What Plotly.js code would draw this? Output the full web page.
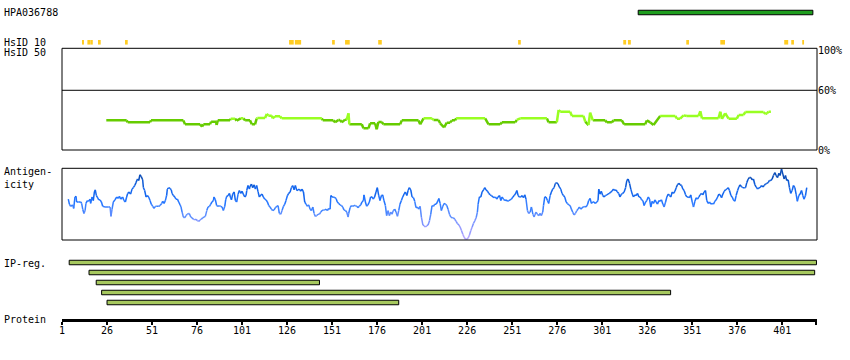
<!DOCTYPE html>
<html><head><meta charset="utf-8">
<script src="https://cdn.plot.ly/plotly-3.0.1.min.js"></script>
<style>html,body{margin:0;padding:0;background:#fff}#chart{width:850px;height:360px}</style>
</head><body><div id="chart"></div>
<script>
// ---- data ----
const antibodyName = 'HPA036788';
const antigenStart = 321;
const antigenEnd = 418;

const hsid10Start = [12.1,15.1,16.7,21.0,36.0,127.1,130.3,151.0,158.2,176.6,254.3,312.7,315.3,347.7,366.6,402.1,406.0,412.1];
const hsid10End   = [13.2,16.6,18.1,22.5,37.5,129.7,133.8,152.5,160.8,178.6,255.8,314.3,316.9,349.2,369.2,404.3,407.5,413.1];

const idRes = [25.6,36.9,37.5,49.9,50.4,68.4,69.3,77.7,78.8,79.5,83.2,83.8,86.6,86.9,87.5,94.3,94.7,97.1,98,100.3,101.7,102.7,105.4,106.4,108.2,109.1,109.5,113.8,114.7,115.6,117.5,118,119.3,122.1,123,145.3,145.8,151.7,152.7,154.5,155.4,156.4,158.2,159.1,160.1,160.6,167.5,168.4,171.2,172.1,174.9,175.8,176.7,178.6,179.5,188.8,189.7,199,199.9,201.8,206.4,207.3,210.1,211,213.2,214.7,216.6,217.5,219.3,219.9,236,237.9,244.3,245.3,252.7,253.6,255.5,270.3,271.2,275.8,276.8,277.7,283.2,284.2,290.6,291.6,293.4,294.3,295.8,302.7,303.6,306.4,307.3,311.9,313.2,324.9,325.8,327.7,329.5,333.2,341.6,342.5,344.3,346.2,348,354.5,355.5,356.4,365.6,366.6,367.5,369.3,371.2,375.8,376.8,379.5,380.5,390.6,391.6,392.5,393.4,394.7];
const idVal = [29.8,29.8,27.8,27.8,29.8,29.8,25.8,25.8,23.5,25.8,25.8,28.5,28.5,25.1,29.8,29.8,31.5,31.5,29.5,31.8,31.8,29.8,29.8,25.8,25.8,31.5,32.2,32.2,36.2,34.5,34.5,31.8,33.8,33.8,31.8,31.8,29.8,29.8,27.8,30.2,30.2,27.8,30.5,30.5,36.9,25.8,25.8,21.8,21.8,26.8,26.8,20.8,28.1,28.1,25.8,25.8,29.8,29.8,25.8,31.8,31.8,30.2,30.2,26.8,22.8,27.5,27.5,29.8,29.8,31.8,31.8,25.8,25.8,27.8,27.8,30.2,31.8,31.8,27.8,27.8,40.2,38.5,38.5,34.2,34.2,28.5,25.1,37.5,29.8,29.8,27.8,27.8,29.8,29.8,25.8,25.8,29.8,27.8,25.1,34.2,34.2,31.5,31.5,34.8,34.2,34.2,38.9,31.8,31.8,38.5,31.2,36.9,31.5,31.5,35.2,35.2,38.2,38.2,36.2,36.9,38.5,38.5];

const agRes = [4.5,5.1,5.8,6.9,7.5,8.2,8.8,9.1,10.1,11.4,11.9,12.5,13.2,13.8,14.3,15.1,15.8,16.6,16.9,17.7,18.4,19.0,19.5,20.1,20.6,21.4,22.1,22.9,23.6,24.9,26.7,27.7,28.2,28.8,29.5,30.4,31.4,32.3,32.9,33.6,34.7,35.4,36.2,36.9,37.5,38.2,39.1,39.9,40.6,41.4,42.1,42.9,43.6,44.3,45.1,45.8,46.2,46.9,47.7,48.4,49.1,49.9,50.6,51.4,52.1,52.9,53.6,54.7,55.4,56.4,56.9,57.7,58.4,59.1,59.5,60.3,61.0,61.7,62.1,62.9,63.6,64.3,65.1,65.8,66.6,67.1,67.7,68.4,69.1,69.9,70.6,71.4,71.7,72.5,73.2,74.0,74.7,75.4,76.2,76.9,77.7,78.4,79.1,79.9,80.6,81.4,82.1,82.9,83.6,84.3,85.1,85.4,86.2,86.9,87.7,88.4,89.1,89.9,90.6,91.4,91.9,92.5,93.2,94.0,94.5,95.1,95.8,96.6,97.3,98.0,98.8,99.5,100.3,101.0,101.7,102.5,103.2,103.6,104.3,105.1,
105.3,106.2,106.9,107.7,108.4,109.1,109.9,110.6,111.4,112.1,112.8,113.6,114.3,115.1,115.8,116.5,117.3,118.0,118.8,119.5,120.3,121.0,121.7,122.5,123.2,124.0,124.7,125.4,126.2,126.9,127.7,128.4,129.1,129.9,130.6,131.4,132.1,132.8,133.6,134.3,135.1,135.8,136.5,137.3,138.0,138.8,139.5,140.3,141.0,141.7,142.5,143.2,144.0,144.7,145.4,146.2,146.9,147.7,148.4,149.1,149.9,150.3,151.0,151.7,152.5,153.2,153.9,154.7,155.4,156.2,156.9,157.6,158.4,159.1,159.9,160.2,161.0,161.7,162.4,163.2,163.9,164.7,165.4,166.1,166.9,167.6,168.4,168.7,169.5,170.2,170.9,171.7,172.4,173.2,173.9,174.6,175.4,176.1,176.9,177.6,178.4,179.1,179.8,180.6,181.3,182.1,182.8,183.6,184.3,185.0,185.8,186.5,187.3,188.0,188.7,189.5,190.2,191.0,191.7,192.5,193.2,193.9,194.7,195.4,196.2,196.9,197.6,198.4,199.1,199.9,200.6,201.4,202.1,202.8,203.6,204.3,205.1,205.8,206.5,207.3,208.0,
208.8,209.5,210.3,211.0,211.7,212.5,213.2,214.0,214.7,215.4,216.2,216.9,217.7,218.4,219.1,219.9,220.6,221.4,222.1,222.9,223.6,224.3,225.1,225.8,226.6,227.3,228.0,228.8,229.5,230.3,231.0,231.7,232.1,232.8,233.6,234.3,235.1,235.8,236.5,237.3,238.0,238.8,239.5,240.3,241.0,241.7,242.5,243.2,244.0,244.7,245.4,246.2,246.9,247.7,248.4,249.1,249.9,250.6,251.4,252.1,252.8,253.6,254.3,255.0,255.8,256.5,257.3,258.0,258.7,259.5,260.2,261.0,261.7,262.5,263.2,263.6,264.3,265.0,265.8,266.5,267.2,268.0,268.4,269.1,269.8,270.6,271.3,272.1,272.8,273.5,274.3,275.0,275.8,276.5,277.2,278.0,278.7,279.5,280.2,281.0,281.7,282.4,283.2,283.9,284.6,285.4,286.1,286.9,287.6,288.3,289.1,289.8,290.6,291.3,292.0,292.8,293.5,294.3,295.0,295.7,296.5,297.2,298.0,298.7,299.1,299.8,300.5,301.3,302.0,302.8,303.5,304.2,305.0,305.7,306.5,307.2,307.9,308.7,309.4,310.2,310.9,311.7,312.4,
313.2,314.0,314.7,315.4,316.2,316.9,317.7,318.4,319.1,319.9,320.6,321.4,322.1,322.9,323.6,324.3,325.1,325.8,326.6,327.3,328.0,328.8,329.5,330.3,331.0,331.7,332.5,333.2,333.9,334.7,335.4,336.2,336.9,337.7,338.4,339.1,339.9,340.6,341.4,342.1,342.8,343.6,344.3,345.1,345.8,346.5,347.3,348.0,348.8,349.5,350.2,351.0,351.7,352.5,353.2,353.9,354.7,355.4,356.2,356.9,357.6,358.4,359.1,359.9,360.6,361.3,362.1,362.8,363.6,364.3,365.1,365.8,366.5,367.3,368.0,368.8,369.5,370.2,371.0,371.7,372.5,373.2,373.9,374.7,375.4,376.2,376.9,377.6,378.4,379.1,379.9,380.6,381.3,382.1,382.8,383.6,384.3,385.0,385.8,386.5,387.3,388.0,388.7,389.5,390.2,391.0,391.7,392.4,393.2,393.9,394.7,395.4,396.1,396.9,397.6,398.4,399.1,399.8,400.6,401.3,402.1,402.8,403.5,404.3,405.0,405.7,406.5,407.2,408.0,408.7,409.4,410.2,410.9,411.7,412.4,413.1,413.9,414.6];
const agVal = [57,50,47,49,44,60,61,53,53,53,51,43,37,41,51,55,54,57,51,60,55,67,70,62,60,56,56,53,47,46,46,46,33,43,53,56,60,58,61,57,60,55,53,60,65,67,64,71,73,76,80,85,83,91,88,84,73,69,60,62,60,55,50,47,44,47,47,47,48,51,54,51,55,62,71,73,72,70,65,62,60,57,57,53,49,46,39,32,31,34,36,37,37,32,31,29,28,29,27,26,28,29,31,32,33,41,46,47,50,53,55,60,56,48,47,48,47,46,41,47,56,61,62,65,60,56,64,67,55,53,64,69,65,68,64,60,62,69,76,71,
74,78,73,77,71,76,67,60,63,64,60,57,56,53,48,46,43,41,42,45,47,48,37,36,41,47,50,55,62,65,67,73,76,70,76,69,70,71,68,71,67,53,50,47,49,43,41,46,37,33,34,36,36,39,41,42,42,43,41,44,43,62,60,60,59,58,53,51,49,48,46,42,41,39,32,37,45,48,47,48,48,47,45,47,49,53,55,63,53,47,49,53,60,60,57,60,67,73,62,55,62,63,55,48,34,41,34,39,36,41,43,39,33,41,50,55,60,64,67,62,69,73,70,60,59,54,45,46,43,47,32,21,20,18,20,21,27,36,48,47,50,
50,53,58,51,41,47,51,50,48,43,36,32,31,31,29,26,23,21,18,13,8,4,1,1,3,7,13,18,23,27,31,39,50,60,60,67,70,73,70,68,65,63,62,60,59,60,57,60,62,55,60,57,55,56,54,55,56,57,60,62,64,69,62,60,60,62,59,63,57,41,37,39,46,36,32,35,39,36,34,37,34,39,48,60,60,55,51,62,67,71,73,79,80,78,74,71,65,62,60,53,51,49,48,43,39,35,37,41,43,46,43,45,46,47,46,49,55,58,51,53,53,51,53,55,71,64,68,62,60,62,63,64,65,67,68,71,69,70,67,65,60,64,65,
67,73,83,85,79,71,64,60,63,62,65,60,60,56,55,48,53,55,60,57,46,54,51,56,53,50,55,54,56,50,46,53,60,64,62,60,67,65,68,73,77,79,77,76,71,69,63,60,60,59,63,53,46,54,59,57,60,63,65,63,67,69,55,51,53,50,51,50,54,56,60,64,63,59,64,68,70,71,73,69,62,60,56,54,62,69,74,77,74,73,73,73,80,85,87,87,84,85,77,74,71,73,73,76,74,76,78,79,80,83,83,85,90,94,90,87,93,90,99,92,85,90,83,84,73,65,69,76,73,64,54,62,64,69,62,57,62,73];

const ipStart = [5, 16, 20, 23, 26];
const ipEnd   = [420, 419, 144, 339, 188];

const rulerTicks = [1,26,51,76,101,126,151,176,201,226,251,276,301,326,351,376,401];
const seqEnd = 420;
const idTickVals = [0, 60, 100];
const idTickText = ['0%', '60%', '100%'];

// ---- styling helpers ----
const FONT = 'DejaVu Sans Mono';
const H = 360;
const dom = (top, bottom) => [1 - bottom / H, 1 - top / H];

function agColor(v) {
  if (v >= 85) return '#0b4db8';
  if (v >= 75) return '#0d5ad6';
  if (v >= 60) return '#1466ee';
  if (v >= 50) return '#2274ff';
  if (v >= 40) return '#3a80ff';
  if (v >= 30) return '#5a8cff';
  if (v >= 20) return '#7a92ff';
  if (v >= 10) return '#989cff';
  return '#b3a6ff';
}
function idColor(v) { return v >= 31 ? '#99ff22' : '#66cc00'; }

function segmentTraces(xs, ys, colorFn, yaxis, width) {
  const groups = {};
  for (let i = 0; i < xs.length - 1; i++) {
    const c = colorFn((ys[i] + ys[i + 1]) / 2);
    if (!groups[c]) groups[c] = {x: [], y: []};
    groups[c].x.push(xs[i], xs[i + 1], null);
    groups[c].y.push(ys[i], ys[i + 1], null);
  }
  return Object.keys(groups).map(c => ({
    type: 'scatter', mode: 'lines', x: groups[c].x, y: groups[c].y,
    xaxis: 'x', yaxis: yaxis, line: {color: c, width: width}, hoverinfo: 'skip',
    connectgaps: false
  }));
}

const traces = [];
traces.push({
  type: 'bar', orientation: 'h', y: [0.5], x: [antigenEnd - antigenStart], base: [antigenStart],
  width: [0.3], xaxis: 'x', yaxis: 'y',
  marker: {color: '#1e9e1e', line: {color: '#000', width: 1}}
});
traces.push({
  type: 'bar', x: hsid10Start.map((s, i) => (s + hsid10End[i]) / 2),
  y: hsid10Start.map(() => 1), base: 0,
  width: hsid10Start.map((s, i) => hsid10End[i] - s),
  xaxis: 'x', yaxis: 'y2', marker: {color: '#ffcc22', line: {width: 0}}
});
segmentTraces(idRes, idVal, idColor, 'y3', 2.5).forEach(t => traces.push(t));
segmentTraces(agRes, agVal, agColor, 'y4', 1.5).forEach(t => traces.push(t));
traces.push({
  type: 'bar', orientation: 'h', y: ipStart.map((s, i) => i),
  x: ipStart.map((s, i) => ipEnd[i] - s), base: ipStart,
  width: 0.45, xaxis: 'x', yaxis: 'y5',
  marker: {color: '#a6c85e', line: {color: '#000', width: 1}}
});

const tf = {family: FONT, size: 10, color: '#000'};
const hidden = {visible: false, fixedrange: true, anchor: 'x'};

const leftLabels = [
  {text: antibodyName, y: 13},
  {text: 'HsID 10', y: 42.3},
  {text: 'HsID 50', y: 52.5},
  {text: 'Antigen-<br>icity', y: 178},
  {text: 'IP-reg.', y: 263.7},
  {text: 'Protein', y: 319.7}
];

const layout = {
  width: 850, height: 360,
  margin: {l: 62, r: 33, t: 0, b: 0, pad: 0},
  paper_bgcolor: '#fff', plot_bgcolor: 'rgba(0,0,0,0)',
  showlegend: false, barmode: 'overlay',
  font: tf,
  xaxis: {
    domain: [0, 1], range: [1, 420.3], anchor: 'free', position: 1 - 319.5 / H,
    showline: true, linewidth: 3, linecolor: '#000',
    ticks: 'outside', ticklen: 3, tickwidth: 2, tickcolor: '#000',
    ticklabelstandoff: -3,
    tickvals: rulerTicks.concat([seqEnd]),
    ticktext: rulerTicks.map(String).concat(['']),
    tickfont: tf, showgrid: false, zeroline: false, fixedrange: true
  },
  yaxis: Object.assign({domain: dom(5, 20), range: [0, 1]}, hidden),
  yaxis2: Object.assign({domain: dom(40, 44.7), range: [0, 1]}, hidden),
  yaxis3: {
    domain: dom(48.3, 150), range: [0, 102.2], anchor: 'x', side: 'right',
    tickvals: idTickVals, ticktext: idTickText, ticks: '', showline: false,
    showgrid: false, zeroline: false, tickfont: tf, fixedrange: true
  },
  yaxis4: Object.assign({domain: dom(168.3, 240), range: [0, 100]}, hidden),
  yaxis5: Object.assign({domain: dom(257.5, 307.5), range: [4.5, -0.5]}, hidden),
  shapes: [
    {type: 'rect', xref: 'x domain', yref: 'y3 domain', x0: 0, x1: 1, y0: 0, y1: 1, line: {color: '#000', width: 1}},
    {type: 'line', xref: 'x domain', yref: 'y3', x0: 0, x1: 1, y0: 60, y1: 60, line: {color: '#000', width: 1}},
    {type: 'rect', xref: 'x domain', yref: 'y4 domain', x0: 0, x1: 1, y0: 0, y1: 1, line: {color: '#000', width: 1}}
  ],
  annotations: leftLabels.map(l => ({
    text: l.text, xref: 'paper', yref: 'paper', x: -60 / 755, y: 1 - l.y / H,
    xanchor: 'left', yanchor: 'middle', align: 'left', showarrow: false, font: tf
  }))
};

Plotly.newPlot('chart', traces, layout, {staticPlot: true, displayModeBar: false});
</script>
</body></html>
